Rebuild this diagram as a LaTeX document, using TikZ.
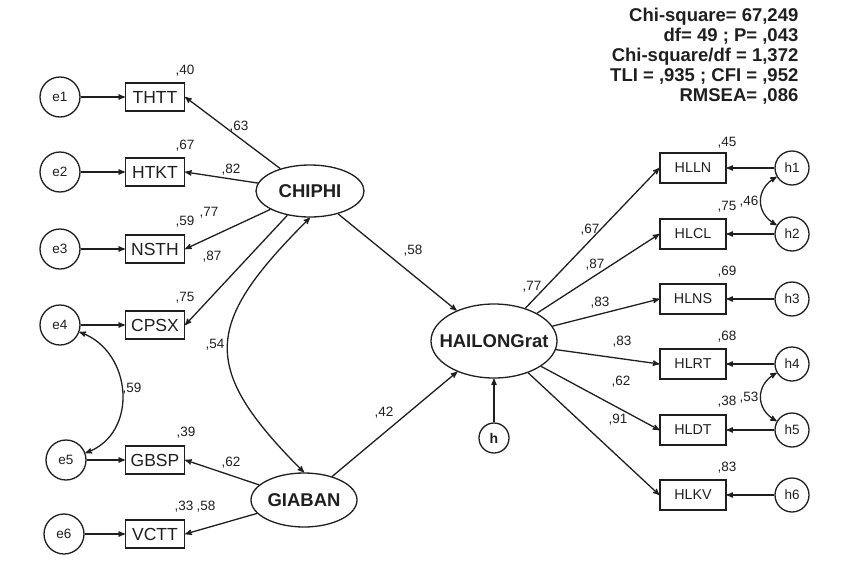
\documentclass[tikz,border=0pt]{standalone}
\usepackage{fontspec}
\setmainfont{Liberation Sans}
\usetikzlibrary{arrows}
\usetikzlibrary{shapes.geometric}

\begin{document}
\begin{tikzpicture} [x=1pt, y=1pt, line width=1.3pt, color=black!88, >=stealth',
  lbox/.style={draw, rectangle, minimum width=59pt, minimum height=28pt, inner sep=0pt, font=\fontsize{17.5}{18}\selectfont},
  rbox/.style={draw, rectangle, minimum width=66pt, minimum height=30pt, inner sep=0pt, font=\fontsize{14.3}{15}\selectfont},
  err/.style={draw, circle, inner sep=0pt, font=\fontsize{13.5}{14}\selectfont},
  lat/.style={draw, ellipse, inner sep=0pt, font=\fontsize{18.5}{19}\selectfont\bfseries},
  est/.style={inner sep=0pt, font=\fontsize{13.5}{14}\selectfont},
  stat/.style={inner sep=0pt, anchor=base east, font=\fontsize{18.5}{19}\selectfont\bfseries}]
\useasboundingbox (0,0) rectangle (850,-570);
% latent variables
\node[lat, minimum width=108pt, minimum height=52pt] (CHIPHI) at (310,-191) {CHIPHI};
\node[lat, minimum width=106pt, minimum height=54pt] (GIABAN) at (304,-500) {GIABAN};
\node[lat, minimum width=126pt, minimum height=74pt] (HAILONG) at (494,-341) {\makebox[0pt]{HAILONGrat}};
\node[err, minimum size=30pt, font=\fontsize{14}{14}\selectfont\bfseries] (h) at (494,-438) {h};
% left indicators
\foreach \i/\x/\y/\t in {1/60/97/THTT, 2/60/172/HTKT, 3/60/249/NSTH, 4/60/325/CPSX, 5/66/460/GBSP, 6/64/534/VCTT} {
 \node[err, minimum size=40pt] (e\i) at (\x,-\y) {e\i};
 \node[lbox] (\t) at (155,-\y) {\t};
 \draw[->] (e\i) -- (\t);
}
\foreach \t in {THTT,HTKT,NSTH,CPSX} {
 \draw[->] (CHIPHI) -- (\t.east);
}
\foreach \t in {GBSP,VCTT} {
 \draw[->] (GIABAN) -- (\t.east);
}
% right indicators
\foreach \i/\y/\t in {1/168/HLLN, 2/234/HLCL, 3/299/HLNS, 4/364/HLRT, 5/430/HLDT, 6/495/HLKV} {
 \node[rbox] (\t) at (693,-\y) {\t};
 \node[err, minimum size=34pt] (h\i) at (792,-\y) {h\i};
 \draw[->] (h\i) -- (\t);
 \draw[->] (HAILONG) -- (\t.west);
}
\draw[->] (CHIPHI) -- (HAILONG);
\draw[->] (GIABAN) -- (HAILONG);
\draw[->] (h) -- (HAILONG);
% covariances
\draw[<->] (CHIPHI.south) to[out=-135, in=135, looseness=1.5] (GIABAN.north);
\draw[<->] (e4) to[out=-20, in=20, looseness=1.2] (e5);
\draw[<->] (h1) to[out=-150, in=150, looseness=1.3] (h2);
\draw[<->] (h4) to[out=-150, in=150, looseness=1.3] (h5);
% estimates
\foreach \n/\x/\y/\v in {1/185/71/40, 2/239/127/63, 3/185/146/67, 4/231/170/82, 5/185/222/59, 6/209/213/77, 7/212/257/87, 8/185/298/75,
  9/215/345/54, 10/132/389/59, 11/186/433/39, 12/231/463/62, 13/184/507/33, 14/206/507/58, 15/384/413/42, 16/413/251/58,
  17/532/287/77, 18/590/230/67, 19/595/265/87, 20/600/303/83, 21/622/342/83, 22/621/382/62, 23/618/420/91,
  24/727/143/45, 25/727/207/75, 26/749/202/46, 27/727/272/69, 28/727/337/68, 29/727/402/38, 30/749/398/53, 31/727/468/83} {
 \node[est] (l\n) at (\x,-\y) {,\v};
}
% fit indices
\foreach \n/\y/\s in {1/15/{Chi-square= 67,249}, 2/35/{df= 49 ; P= ,043}, 3/55/{Chi-square/df = 1,372}, 4/75/{TLI = ,935 ; CFI = ,952}, 5/95/{RMSEA= ,086}} {
 \node[stat] (s\n) at (799,-\y-6.6) {\s};
}
\end{tikzpicture}
\end{document}
